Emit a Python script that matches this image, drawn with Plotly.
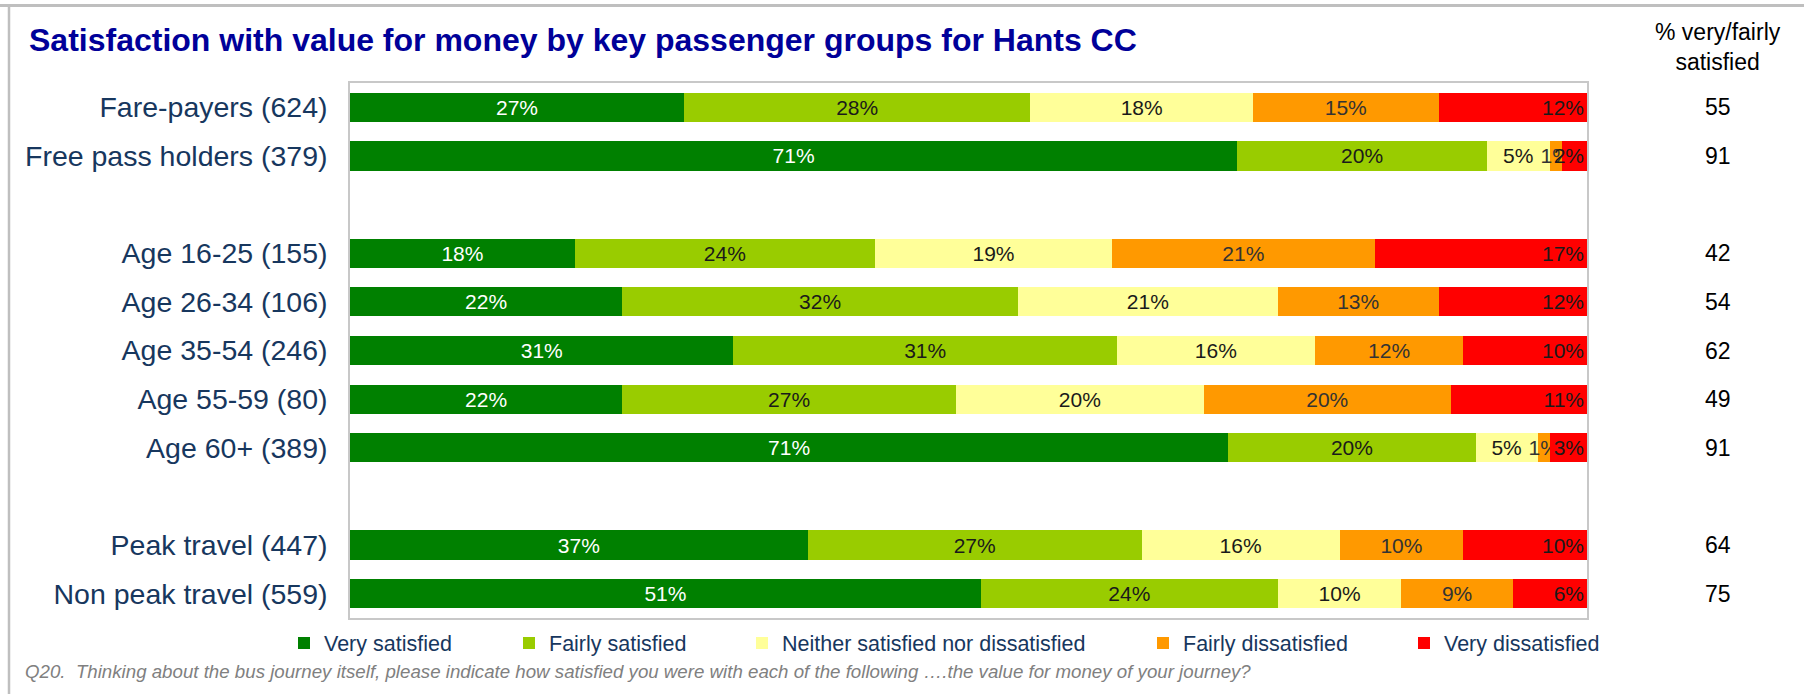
import plotly.graph_objects as go

W, H = 1804, 694
L, R, T, B = 350, 217, 83, 76
PW, PH = W - L - R, H - T - B


def px(x):
    return (x - L) / PW


def py(y):
    return 1 - (y - T) / PH


FONT = "Liberation Sans, Arial, sans-serif"
NAVY = "#17375E"

groups = ["Fare-payers (624)", "Free pass holders (379)", "Age 16-25 (155)",
          "Age 26-34 (106)", "Age 35-54 (246)", "Age 55-59 (80)", "Age 60+ (389)",
          "Peak travel (447)", "Non peak travel (559)"]
row_order = [groups[0], groups[1], " ", groups[2], groups[3], groups[4],
             groups[5], groups[6], "  ", groups[7], groups[8]]

very_satisfied = [27, 71, 18, 22, 31, 22, 71, 37, 51]
fairly_satisfied = [28, 20, 24, 32, 31, 27, 20, 27, 24]
neither = [18, 5, 19, 21, 16, 20, 5, 16, 10]
fairly_dissatisfied = [15, 1, 21, 13, 12, 20, 1, 10, 9]
very_dissatisfied = [12, 2, 17, 12, 10, 11, 3, 10, 6]
very_fairly_total = [55, 91, 42, 54, 62, 49, 91, 64, 75]

series_names = ["Very satisfied", "Fairly satisfied",
                "Neither satisfied nor dissatisfied", "Fairly dissatisfied",
                "Very dissatisfied"]
series_values = [very_satisfied, fairly_satisfied, neither,
                 fairly_dissatisfied, very_dissatisfied]
series_colors = ["#008000", "#99CC00", "#FFFF99", "#FF9900", "#FF0000"]
label_colors = ["#FFFFFF", "#1A1A1A", "#1A1A1A", "#333333", "#1A1A1A"]
label_anchor = ["middle", "middle", "middle", "middle", "end"]
legend_text_start = [326, 551, 784, 1185, 1446]

fig = go.Figure()
legend_ids = ["legend", "legend2", "legend3", "legend4", "legend5"]
for i, (name, vals) in enumerate(zip(series_names, series_values)):
    fig.add_trace(go.Bar(
        y=groups, x=vals, orientation="h", name=name,
        marker=dict(color=series_colors[i], line=dict(width=0)),
        text=[f"{v}%" for v in vals],
        textposition="inside", insidetextanchor=label_anchor[i],
        textangle=0, constraintext="none", cliponaxis=False,
        textfont=dict(family=FONT, size=21, color=label_colors[i]),
        legend=legend_ids[i],
        hovertemplate="%{y}: %{text}<extra>" + name + "</extra>",
    ))

layout_legends = {}
for i, lid in enumerate(legend_ids):
    layout_legends[lid] = dict(
        x=px(legend_text_start[i] - 42), y=py(643), xref="paper", yref="paper",
        xanchor="left", yanchor="middle", orientation="h",
        font=dict(family=FONT, size=21.5, color=NAVY),
        bgcolor="rgba(0,0,0,0)", borderwidth=0,
    )

annotations = []
for g, v in zip(groups, very_fairly_total):
    annotations.append(dict(
        x=px(1718), y=g, xref="paper", yref="y", text=str(v),
        showarrow=False, xanchor="center", yanchor="middle",
        font=dict(family=FONT, size=23, color="#000000"),
    ))
annotations.append(dict(
    x=px(1718), y=py(47), xref="paper", yref="paper",
    text="% very/fairly<br>satisfied", showarrow=False,
    xanchor="center", yanchor="middle",
    font=dict(family=FONT, size=23, color="#000000"),
))
annotations.append(dict(
    x=px(23), y=py(671), xref="paper", yref="paper",
    text="<i>Q20.\u00a0 Thinking about the bus journey itself, please indicate how satisfied "
         "you were with each of the following \u2026.the value for money of your journey?</i>",
    showarrow=False, xanchor="left", yanchor="middle",
    font=dict(family=FONT, size=18.7, color="#808080"),
))

shapes = [
    dict(type="line", xref="paper", yref="paper", x0=px(0), x1=px(W),
         y0=py(5.5), y1=py(5.5), line=dict(color="#BFBFBF", width=3)),
    dict(type="line", xref="paper", yref="paper", x0=px(9), x1=px(9),
         y0=py(5), y1=py(H + 5), line=dict(color="#BFBFBF", width=2.5)),
]

fig.update_layout(
    width=W, height=H,
    margin=dict(l=L, r=R, t=T, b=B, pad=0),
    paper_bgcolor="white", plot_bgcolor="white",
    barmode="stack", barnorm="percent", bargap=0.4,
    title=dict(text="Satisfaction with value for money by key passenger groups for Hants CC",
               x=29 / W, xref="container", xanchor="left",
               y=1 - 40 / H, yref="container", yanchor="middle",
               font=dict(family=FONT, size=32, color="#000099", weight="bold")),
    xaxis=dict(range=[0, 100.001], showticklabels=False, showgrid=False,
               zeroline=False, showline=True, mirror=True,
               linecolor="#C8C8C8", linewidth=1.5, fixedrange=True),
    yaxis=dict(type="category", categoryorder="array", categoryarray=row_order,
               autorange="reversed", showgrid=False, zeroline=False,
               showline=True, mirror=True, linecolor="#C8C8C8", linewidth=1.5,
               ticks="", ticklabelstandoff=15,
               tickfont=dict(family=FONT, size=28.5, color=NAVY)),
    annotations=annotations, shapes=shapes,
    showlegend=True,
    **layout_legends,
)

fig.write_html("out.html", config={"displayModeBar": False},
               post_script="document.body.style.margin='0px';")
